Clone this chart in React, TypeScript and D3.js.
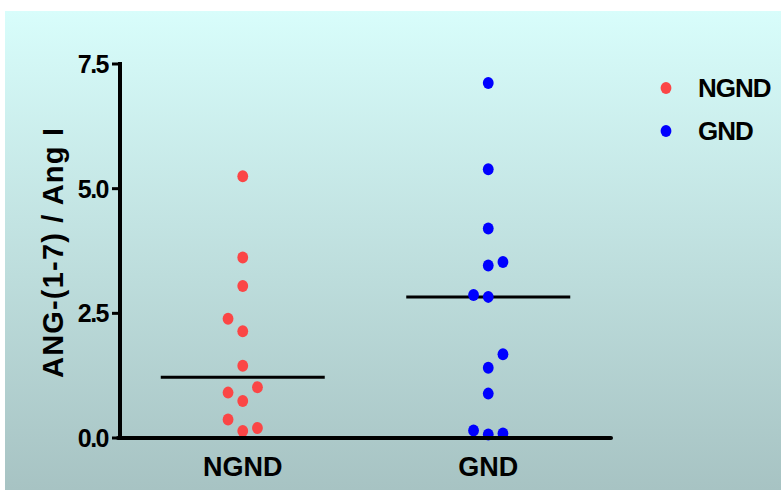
import React from 'react';
import * as d3 from 'd3';

// canvas
const width = 781;
const height = 490;

// data
const categories = ['NGND', 'GND'];
const ngndValues = [5.25, 3.62, 3.05, 2.39, 2.14, 1.45, 1.02, 0.91, 0.74, 0.37, 0.14, 0.2];
const ngndColumns = [0, 0, 0, -1, 0, 0, 1, -1, 0, -1, 0, 1];
const gndValues = [7.12, 5.39, 4.2, 3.53, 3.46, 2.87, 2.83, 1.68, 1.41, 0.89, 0.15, 0.07, 0.09];
const gndColumns = [0, 0, 0, 1, 0, -1, 0, 1, 0, 0, -1, 0, 1];
const medians = [1.22, 2.83];
const yTicks = [0, 2.5, 5, 7.5];
const colors = ['#fb4646', '#0000ff'];

const series = [
  { name: categories[0], values: ngndValues, cols: ngndColumns, color: colors[0] },
  { name: categories[1], values: gndValues, cols: gndColumns, color: colors[1] },
];

// layout
const axisLeft = 120;
const axisRight = 611;
const axisBottom = 438;
const axisTop = 64;
const dotRx = 5.4;
const dotRy = 6;
const colStep = 14.7;
const medianHalf = 82;
const font = 'Liberation Sans, Arial, Helvetica, sans-serif';

const x = d3.scalePoint<string>().domain(categories).range([axisLeft, axisRight]).padding(0.5);
const y = d3.scaleLinear().domain([0, 7.5]).range([axisBottom, axisTop]);

const App = () => (
  <svg
    width={width}
    height={height}
    style={{ position: 'absolute', left: 0, top: 0 }}
  >
    <defs>
      <linearGradient id="bg" x1="0" y1="0" x2="0" y2="1">
        <stop offset="0%" stopColor="#d8fdfb" />
        <stop offset="100%" stopColor="#a7c3c3" />
      </linearGradient>
    </defs>
    <rect x={0} y={0} width={width} height={height} fill="#ffffff" />
    <rect x={5} y={11} width={width - 5} height={height - 11} fill="url(#bg)" />

    {/* medians */}
    {series.map((s, i) => (
      <line
        key={'m' + s.name}
        x1={x(s.name)! - medianHalf}
        x2={x(s.name)! + medianHalf}
        y1={y(medians[i])}
        y2={y(medians[i])}
        stroke="#000"
        strokeWidth={3}
      />
    ))}

    {/* points */}
    {series.map((s) =>
      s.values.map((v, j) => (
        <ellipse
          key={s.name + j}
          cx={x(s.name)! + s.cols[j] * colStep}
          cy={y(v)}
          rx={dotRx}
          ry={dotRy}
          fill={s.color}
        />
      ))
    )}

    {/* y axis */}
    <line x1={axisLeft} x2={axisLeft} y1={axisTop - 2} y2={axisBottom + 2} stroke="#000" strokeWidth={4} />
    {yTicks.map((t) => (
      <g key={t}>
        <line x1={axisLeft - 8} x2={axisLeft} y1={y(t)} y2={y(t)} stroke="#000" strokeWidth={3} />
        <text
          x={108}
          y={y(t) + 9}
          textAnchor="end"
          fontFamily={font}
          fontWeight="bold"
          fontSize={25}
          letterSpacing={-1.5}
          fill="#000"
        >
          {t.toFixed(1)}
        </text>
      </g>
    ))}

    {/* x axis */}
    <line
      x1={axisLeft - 2}
      x2={axisRight}
      y1={axisBottom}
      y2={axisBottom}
      stroke="#000"
      strokeWidth={4}
      strokeLinecap="round"
    />
    {categories.map((c) => (
      <text
        key={c}
        x={x(c)}
        y={476}
        textAnchor="middle"
        fontFamily={font}
        fontWeight="bold"
        fontSize={27}
        fill="#000"
      >
        {c}
      </text>
    ))}

    {/* y label */}
    <text
      transform="translate(63,253) rotate(-90)"
      textAnchor="middle"
      fontFamily={font}
      fontWeight="bold"
      fontSize={29}
      textLength={250}
      lengthAdjust="spacing"
      fill="#000"
    >
      ANG-(1-7) / Ang I
    </text>

    {/* legend */}
    {series.map((s, i) => (
      <g key={'l' + s.name} transform={`translate(666,${88 + i * 43})`}>
        <ellipse cx={0} cy={0} rx={dotRx} ry={dotRy} fill={s.color} />
        <text
          x={32}
          y={9}
          fontFamily={font}
          fontWeight="bold"
          fontSize={26}
          letterSpacing={-1}
          fill="#000"
        >
          {s.name}
        </text>
      </g>
    ))}
  </svg>
);

export default App;
